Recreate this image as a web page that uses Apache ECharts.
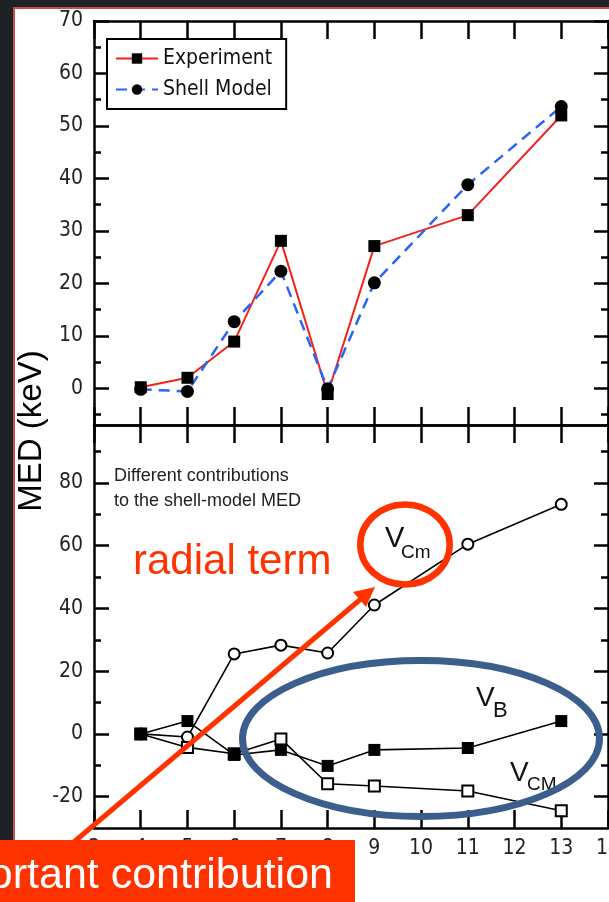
<!DOCTYPE html>
<html>
<head>
<meta charset="utf-8">
<script src="https://cdn.jsdelivr.net/npm/echarts@6/dist/echarts.min.js"></script>
<style>
  html, body { margin: 0; padding: 0; background: #1e2227; }
  .panel {
    position: absolute; left: 13px; top: 7px; width: 596px; height: 895px;
    background: #fff; border-left: 2px solid #c4504b; border-top: 2px solid #c4504b;
  }
  #chart { position: absolute; left: 0; top: 0; width: 609px; height: 902px; }
</style>
</head>
<body>
<div class="panel"></div>
<div id="chart"></div>
<script>
// mass number A
const massNumbers = [4, 5, 6, 7, 8, 9, 11, 13];
// upper panel (keV)
const experiment = [0.2, 2.0, 8.9, 28.1, -1.1, 27.1, 33.0, 52.0];
const shellModel = [-0.2, -0.6, 12.7, 22.3, -0.1, 20.1, 38.8, 53.7];
// lower panel: contributions (keV)
const vCmRadial = [0, -1, 25.5, 28.3, 25.8, 41.1, 60.5, 73.2];
const vB = [0, 4.1, -6.7, -5.1, -10.2, -5.1, -4.5, 4.1];
const vCM = [0, -4.3, -6.3, -1.6, -15.9, -16.6, -18.2, -24.5];
// ticks
const topMajor = [0, 10, 20, 30, 40, 50, 60, 70];
const topMinor = [-5, 5, 15, 25, 35, 45, 55, 65];
const botMajor = [-20, 0, 20, 40, 60, 80];
const botMinor = [-10, 10, 30, 50, 70, 90];

const narrow = '"Liberation Sans Narrow", "DejaVu Sans Condensed", sans-serif';
const sans = '"Liberation Sans", Arial, sans-serif';
const orange = '#ff3300';

const pairs = (ys) => massNumbers.map((x, i) => [x, ys[i]]);

function yAxes(grid, min, max, major, minor) {
  const base = {
    type: 'value', gridIndex: grid, min: min, max: max,
    splitLine: { show: false },
  };
  const line = { show: true, onZero: false, lineStyle: { color: '#000', width: 2.5 } };
  return [
    Object.assign({}, base, {
      position: 'left', axisLine: line,
      axisTick: { inside: true, length: 15, customValues: major, lineStyle: { color: '#000', width: 2.5 } },
      axisLabel: { customValues: major, margin: 11, color: '#222', fontSize: 21, fontFamily: narrow },
    }),
    Object.assign({}, base, {
      position: 'left', axisLine: { show: false },
      axisTick: { inside: true, length: 7, customValues: minor, lineStyle: { color: '#000', width: 2.5 } },
      axisLabel: { show: false },
    }),
    Object.assign({}, base, {
      position: 'right', axisLine: line,
      axisTick: { inside: true, length: 14, customValues: major, lineStyle: { color: '#000', width: 2.5 } },
      axisLabel: { show: false },
    }),
    Object.assign({}, base, {
      position: 'right', axisLine: { show: false },
      axisTick: { inside: true, length: 7, customValues: minor, lineStyle: { color: '#000', width: 2.5 } },
      axisLabel: { show: false },
    }),
  ];
}

function xAxis(grid, position, labels) {
  return {
    type: 'value', gridIndex: grid, position: position, min: 3, max: 14, interval: 1,
    splitLine: { show: false },
    axisLine: { show: true, onZero: false, lineStyle: { color: '#000', width: 2.5 } },
    axisTick: { inside: true, length: 18, lineStyle: { color: '#000', width: 2.5 } },
    axisLabel: { show: labels, margin: 10, color: '#222', fontSize: 21, fontFamily: narrow },
  };
}

function lineSeries(name, data, xi, yi, symbol, size, color, lineStyle) {
  return {
    name: name, type: 'line', data: pairs(data), xAxisIndex: xi, yAxisIndex: yi,
    symbol: symbol, symbolSize: size, showAllSymbol: true,
    itemStyle: { color: '#000', borderWidth: 1.8 },
    lineStyle: Object.assign({ color: color, width: 1.6 }, lineStyle),
    z: 3,
  };
}

const chart = echarts.init(document.getElementById('chart'));
chart.setOption({
  animation: false,
  backgroundColor: 'transparent',
  grid: [
    { left: 94, top: 21, width: 514, height: 404, containLabel: false, outerBoundsMode: 'none' },
    { left: 94, top: 425, width: 514, height: 403, containLabel: false, outerBoundsMode: 'none' },
  ],
  xAxis: [
    xAxis(0, 'bottom', false),
    xAxis(0, 'top', false),
    xAxis(1, 'bottom', true),
    xAxis(1, 'top', false),
  ],
  yAxis: yAxes(0, -7, 70, topMajor, topMinor).concat(yAxes(1, -30, 98.5, botMajor, botMinor)),
  legend: {
    data: ['Experiment', 'Shell Model'],
    orient: 'vertical', left: 107, top: 39,
    itemWidth: 42, itemHeight: 13, itemGap: 10,
    padding: [9, 14, 9, 8],
    borderColor: '#000', borderWidth: 2, backgroundColor: '#fff',
    textStyle: { fontSize: 21, fontFamily: narrow, color: '#111' },
  },
  series: [
    lineSeries('Experiment', experiment, 0, 0, 'rect', 12, '#f2231b', { width: 2 }),
    lineSeries('Shell Model', shellModel, 0, 0, 'circle', 13, '#2a63f5', { width: 2.5, type: [11, 7] }),
    lineSeries('V_Cm', vCmRadial, 2, 4, 'emptyCircle', 11, '#000', {}),
    lineSeries('V_CM', vCM, 2, 4, 'emptyRect', 11, '#000', {}),
    lineSeries('V_B', vB, 2, 4, 'rect', 12, '#000', {}),
  ],
  graphic: [
    {
      type: 'text', x: 32, y: 431, rotation: Math.PI / 2,
      style: { text: 'MED (keV)', fontSize: 33, fontFamily: sans, fill: '#000', align: 'center', verticalAlign: 'middle' },
    },
    {
      type: 'text', x: 114, y: 464,
      style: {
        text: 'Different contributions\nto the shell-model MED', fontSize: 18, lineHeight: 25,
        fontFamily: sans, fill: '#222', align: 'left', verticalAlign: 'top',
      },
    },
    {
      type: 'text', x: 133, y: 562, z: 50,
      style: { text: 'radial term', fontSize: 42, fontFamily: sans, fill: orange, align: 'left', verticalAlign: 'middle' },
    },
    { type: 'text', x: 385, y: 539, z: 50, style: { text: 'V', fontSize: 29, fontFamily: sans, fill: '#111', align: 'left', verticalAlign: 'middle' } },
    { type: 'text', x: 401, y: 553, z: 50, style: { text: 'Cm', fontSize: 19, fontFamily: sans, fill: '#111', align: 'left', verticalAlign: 'middle' } },
    { type: 'text', x: 476, y: 698, z: 50, style: { text: 'V', fontSize: 28, fontFamily: sans, fill: '#111', align: 'left', verticalAlign: 'middle' } },
    { type: 'text', x: 493, y: 711, z: 50, style: { text: 'B', fontSize: 22, fontFamily: sans, fill: '#111', align: 'left', verticalAlign: 'middle' } },
    { type: 'text', x: 510, y: 773, z: 50, style: { text: 'V', fontSize: 28, fontFamily: sans, fill: '#111', align: 'left', verticalAlign: 'middle' } },
    { type: 'text', x: 527, y: 785, z: 50, style: { text: 'CM', fontSize: 19, fontFamily: sans, fill: '#111', align: 'left', verticalAlign: 'middle' } },
    {
      type: 'ellipse', z: 60, shape: { cx: 405, cy: 544.5, rx: 44.7, ry: 40 },
      style: { fill: 'none', stroke: orange, lineWidth: 6.5 },
    },
    {
      type: 'ellipse', z: 60, shape: { cx: 421, cy: 738.5, rx: 178.5, ry: 78 },
      style: { fill: 'none', stroke: '#3b5e8c', lineWidth: 7 },
    },
    {
      type: 'line', z: 60, shape: { x1: 55, y1: 858, x2: 362, y2: 598 },
      style: { stroke: orange, lineWidth: 5 },
    },
    {
      type: 'polygon', z: 60, shape: { points: [[375, 587], [366, 607], [353, 592]] },
      style: { fill: orange },
    },
    {
      type: 'rect', z: 70, shape: { x: 0, y: 840, width: 355, height: 62 },
      style: { fill: orange },
    },
    {
      type: 'text', x: 333, y: 876, z: 80,
      style: { text: 'Important contribution', fontSize: 43, fontFamily: sans, fill: '#fff', align: 'right', verticalAlign: 'middle' },
    },
  ],
});
</script>
</body>
</html>
